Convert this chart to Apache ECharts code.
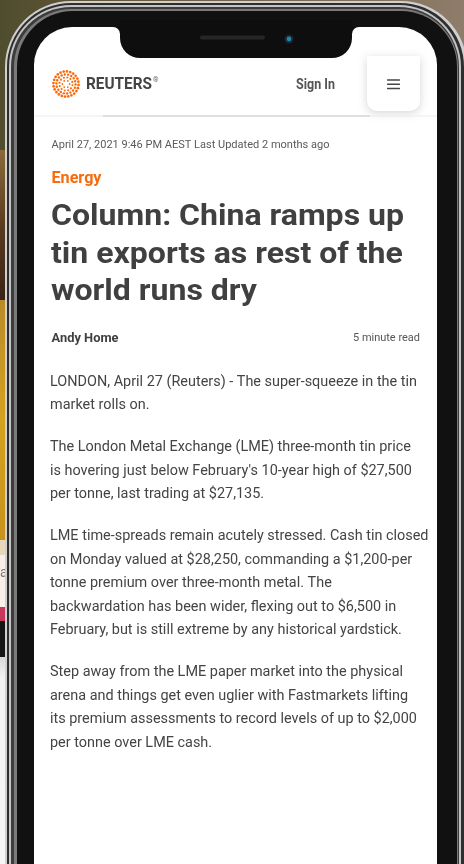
<!DOCTYPE html>
<html><head><meta charset="utf-8">
<script src="https://cdn.jsdelivr.net/npm/echarts@6/dist/echarts.min.js"></script>
<style>html,body{margin:0;padding:0;background:#fff;overflow:hidden}#c{width:464px;height:864px;}</style>
</head><body><div id="c"></div>
<script>
// ---- content ----
const brandName = 'REUTERS';
const signInLabel = 'Sign In';
const dateline = 'April 27, 2021 9:46 PM AEST Last Updated 2 months ago';
const sectionLabel = 'Energy';
const headlineLines = ['Column: China ramps up', 'tin exports as rest of the', 'world runs dry'];
const authorName = 'Andy Home';
const readTime = '5 minute read';
const paragraph1 = ['LONDON, April 27 (Reuters) - The super-squeeze in the tin', 'market rolls on.'];
const paragraph2 = ['The London Metal Exchange (LME) three-month tin price', "is hovering just below February's 10-year high of $27,500", 'per tonne, last trading at $27,135.'];
const paragraph3 = ['LME time-spreads remain acutely stressed. Cash tin closed', 'on Monday valued at $28,250, commanding a $1,200-per', 'tonne premium over three-month metal. The', 'backwardation has been wider, flexing out to $6,500 in', 'February, but is still extreme by any historical yardstick.'];
const paragraph4 = ['Step away from the LME paper market into the physical', 'arena and things get even uglier with Fastmarkets lifting', 'its premium assessments to record levels of up to $2,000', 'per tonne over LME cash.'];
const paragraphs = [paragraph1, paragraph2, paragraph3, paragraph4];

// ---- helpers ----
const FAM = 'Roboto, "Noto Sans", sans-serif';
const mctx = document.createElement('canvas').getContext('2d');
function measure(text, font) { mctx.font = font; return mctx.measureText(text).width; }
function fontStr(size, weight) { return weight + ' ' + size + 'px ' + FAM; }
function fit(text, size, weight, target) { return target / measure(text, fontStr(size, weight)); }
function txt(text, x, baseline, size, weight, color, sx, align) {
  return {
    type: 'text', x: x, y: baseline - 0.35 * size, scaleX: sx || 1, silent: true, z: 50,
    style: { text: text, x: 0, y: 0, font: fontStr(size, weight), fill: color, align: align || 'left', verticalAlign: 'middle' }
  };
}
function rect(x, y, w, h, r, fill, z, extra) {
  return { type: 'rect', silent: true, z: z, shape: { x: x, y: y, width: w, height: h, r: r }, style: Object.assign({ fill: fill }, extra || {}) };
}
function lin(x2, y2, stops) { return { type: 'linear', x: 0, y: 0, x2: x2, y2: y2, colorStops: stops.map(s => ({ offset: s[0], color: s[1] })) }; }

const els = [];
// background scene
els.push(rect(0, 0, 464, 864, 0, '#e9e9e9', 1));
els.push(rect(0, 0, 464, 160, 0, lin(1, 0, [[0, '#4f4d2e'], [0.3, '#6a5a3a'], [0.7, '#7d6a55'], [1, '#8f7d6b']]), 2));
els.push(rect(0, 150, 20, 150, 0, lin(0, 1, [[0, '#8a6a3a'], [0.5, '#5a3b20'], [1, '#3a2418']]), 2));
els.push(rect(0, 300, 20, 240, 0, lin(0, 1, [[0, '#b98a28'], [0.5, '#d4a21f'], [1, '#c8921c']]), 2));
els.push(rect(0, 540, 20, 15, 0, '#e6d6bc', 2));
els.push(rect(0, 555, 20, 52, 0, '#f7f0ea', 2));
els.push(rect(0, 607, 20, 14, 0, '#c9385c', 2));
els.push(rect(0, 621, 20, 36, 0, '#151515', 2));
els.push(rect(0, 657, 20, 207, 0, lin(0, 1, [[0, '#d8d8d8'], [0.1, '#f2f2f2'], [1, '#f6f6f6']]), 2));
els.push({ type: 'text', x: 0, y: 573, silent: true, z: 3, style: { text: 'a', font: '14px ' + FAM, fill: '#777', verticalAlign: 'middle' } });

// phone body layers
els.push(rect(5, 1, 462, 960, 66, '#cfcfcf', 10));
els.push(rect(7, 3, 457, 960, 64, '#2e2e2e', 11));
els.push(rect(9, 5, 452, 960, 62, '#c4c4c4', 12));
els.push(rect(11, 7, 448, 960, 60, '#3c3c3c', 13));
els.push(rect(14, 9, 444, 960, 58, '#7a7a7a', 14));
els.push(rect(17, 11, 440, 960, 56, '#111111', 15));
// screen
els.push(rect(34, 27, 403, 960, [38, 38, 0, 0], '#ffffff', 20));
// notch
els.push(rect(113, 27, 246, 7, 0, '#0e0e0e', 21));
els.push({ type: 'circle', silent: true, z: 22, shape: { cx: 113, cy: 34, r: 7 }, style: { fill: '#ffffff' } });
els.push({ type: 'circle', silent: true, z: 22, shape: { cx: 359, cy: 34, r: 7 }, style: { fill: '#ffffff' } });
els.push(rect(120, 20, 232, 38, [0, 0, 20, 20], '#0e0e0e', 23));
els.push(rect(200, 35.5, 65, 4, 2, '#262626', 24));
els.push({ type: 'circle', silent: true, z: 24, shape: { cx: 289, cy: 39, r: 4.5 }, style: { fill: '#1b2630' } });
els.push({ type: 'circle', silent: true, z: 25, shape: { cx: 289, cy: 39, r: 2.4 }, style: { fill: '#2185a8' } });

// header
const ORANGE = '#fa6a0a';
const ringR = [3.6, 6.6, 9.6, 12.6], ringN = [6, 12, 18, 24], dotR = [0.9, 1.05, 1.2, 1.35];
ringR.forEach((rr, i) => {
  for (let k = 0; k < ringN[i]; k++) {
    const a = (k / ringN[i]) * Math.PI * 2 + i * 0.2;
    els.push({ type: 'circle', silent: true, z: 30, shape: { cx: 66 + rr * Math.cos(a), cy: 84 + rr * Math.sin(a), r: dotR[i] }, style: { fill: ORANGE } });
  }
});
els.push(txt(brandName, 86, 91, 16.5, 'bold', '#444444', fit(brandName, 16.5, 'bold', 66)));
els.push({ type: 'text', x: 153, y: 80, silent: true, z: 50, style: { text: '®', font: '7px ' + FAM, fill: '#666', verticalAlign: 'middle' } });
els.push(txt(signInLabel, 296, 90, 14, 'bold', '#555555', fit(signInLabel, 14, 'bold', 39)));
els.push(rect(367, 56, 53, 55, [0, 0, 10, 10], '#ffffff', 28, { shadowBlur: 8, shadowColor: 'rgba(0,0,0,0.16)', shadowOffsetY: 2 }));
[80, 84.3, 88.6].forEach(yy => els.push(rect(387, yy - 0.75, 13, 1.5, 0.5, '#454545', 31)));
els.push(rect(34, 115.5, 403, 1, 0, '#ececec', 29));
els.push(rect(103, 115.5, 267, 1, 0, '#c9c9c9', 30));

// article meta
els.push(txt(dateline, 51.5, 149.5, 11, 'normal', '#5a5a5a', fit(dateline, 11, 'normal', 278)));
els.push(txt(sectionLabel, 51.5, 184.5, 16, 'bold', ORANGE, fit(sectionLabel, 16, 'bold', 50)));
const hScale = fit(headlineLines[0], 30, 'bold', 353);
[228, 265.5, 303].forEach((b, i) => els.push(txt(headlineLines[i], 51, b, 30, 'bold', '#404040', hScale)));
els.push(txt(authorName, 51.5, 343, 13, 'bold', '#404040', fit(authorName, 13, 'bold', 67)));
els.push(txt(readTime, 420, 342.5, 11.5, 'normal', '#555555', fit(readTime, 11.5, 'normal', 67), 'right'));

// body
const bScale = fit(paragraph1[0], 15.5, 'normal', 367);
let base = 387.3;
paragraphs.forEach(p => {
  p.forEach(line => {
    els.push(txt(line, 50, base, 15.5, 'normal', '#444444', bScale));
    base += 23.6;
  });
  base += 18.1;
});

const chart = echarts.init(document.getElementById('c'), null, { renderer: 'canvas' });
chart.setOption({ animation: false, graphic: { elements: els } });
</script>
</body></html>
